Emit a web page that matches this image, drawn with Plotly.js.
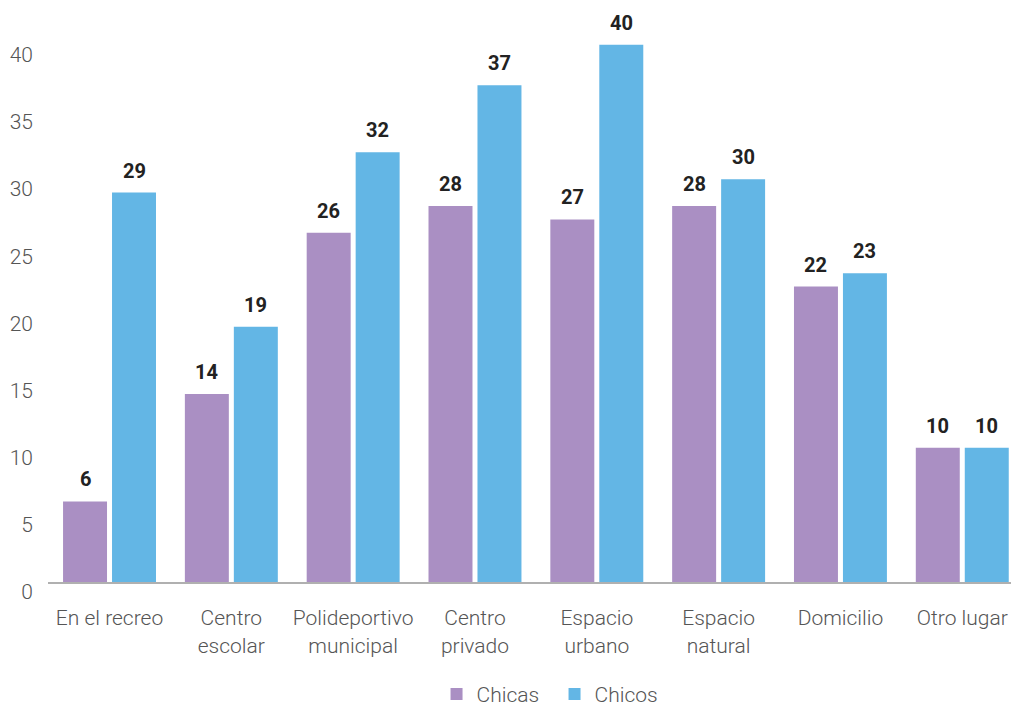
<!DOCTYPE html>
<html>
<head>
<meta charset="utf-8">
<script src="https://cdn.plot.ly/plotly-3.0.1.min.js"></script>
<style>html,body{margin:0;padding:0;background:#fff;}#chart{width:1011px;height:706px;}</style>
</head>
<body>
<div id="chart"></div>
<script>
const categories = ["En el recreo", "Centro<br>escolar", "Polideportivo<br>municipal", "Centro<br>privado", "Espacio<br>urbano", "Espacio<br>natural", "Domicilio", "Otro lugar"];
const chicas = [6, 14, 26, 28, 27, 28, 22, 10];
const chicos = [29, 19, 32, 37, 40, 30, 23, 10];
const seriesNames = ["Chicas", "Chicos"];
const colors = ["#AA8FC3", "#63B6E5"];
const yTicks = [0, 5, 10, 15, 20, 25, 30, 35, 40];

const FONT = "Roboto, 'DejaVu Sans', sans-serif";

const traces = [chicas, chicos].map((vals, i) => ({
  type: "bar",
  name: seriesNames[i],
  x: categories,
  y: vals,
  marker: {color: colors[i]},
  hoverinfo: "skip"
}));

const annotations = [];
[chicas, chicos].forEach((vals, i) => {
  vals.forEach((v, j) => {
    annotations.push({
      x: categories[j], y: v, xref: "x", yref: "y",
      text: String(v), showarrow: false,
      xshift: i === 0 ? -24.5 : 24.5, yshift: 8,
      yanchor: "bottom", xanchor: "center",
      font: {family: FONT, size: 20, color: "#222", weight: 700}
    });
  });
});

const layout = {
  width: 1011, height: 706,
  margin: {l: 48, r: 0, t: 18, b: 124, autoexpand: false},
  paper_bgcolor: "#fff", plot_bgcolor: "#fff",
  font: {family: FONT, color: "#555", size: 20, weight: 300},
  barmode: "group",
  bargap: 0.196,
  bargroupgap: 0.102,
  xaxis: {
    range: [-0.505, 7.40],
    showline: true, linecolor: "#b0b0b0", linewidth: 2,
    ticks: "", showgrid: false, zeroline: false, automargin: false,
    tickfont: {family: FONT, size: 21, color: "#555", weight: 300},
    ticklabelstandoff: 16
  },
  yaxis: {
    range: [0, 42],
    tickvals: yTicks, ticktext: yTicks.map(String),
    showgrid: false, zeroline: false, showline: false, ticks: "", automargin: false,
    tickfont: {family: FONT, size: 21, color: "#555", weight: 300},
    ticklabelshift: 10,
    ticklabelstandoff: 14
  },
  showlegend: true,
  legend: {
    orientation: "h", x: 0.526, xanchor: "center", y: -0.163, yanchor: "top",
    font: {family: FONT, size: 21, color: "#555", weight: 300},
    entrywidth: 73, entrywidthmode: "pixels",
    itemclick: false, itemdoubleclick: false
  },
  annotations: annotations
};

Plotly.newPlot("chart", traces, layout, {displayModeBar: false, staticPlot: true});
</script>
</body>
</html>
